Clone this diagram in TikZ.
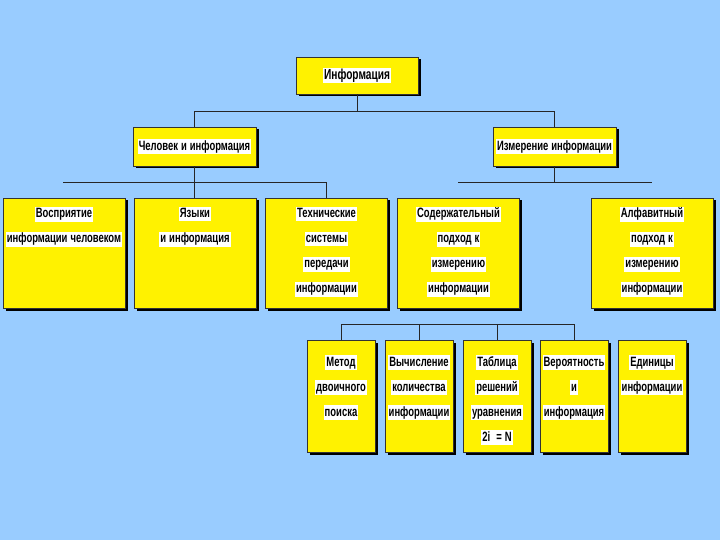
\documentclass[tikz,border=0pt]{standalone}
\usepackage{fontspec}
\setmainfont{Liberation Sans}[FakeStretch=0.7, WordSpace=0.7]
\usetikzlibrary{shadows}
\definecolor{skyblue}{HTML}{99CCFF}
\setlength{\fboxsep}{1pt}
\newcommand{\hl}[1]{\colorbox{white}{\spaceskip=3pt\relax\rule[-2.5pt]{0pt}{12.5pt}#1}}

\tikzset{
  card/.style={draw=black!80, line width=0.5pt, fill=yellow, inner sep=1pt, align=center,
    drop shadow={fill=black, opacity=1, shadow xshift=2.5pt, shadow yshift=-2.5pt},
    font=\fontsize{13.5}{25}\selectfont\bfseries},
  head/.style={card, minimum width=123pt, minimum height=39pt},
  wide/.style={card, text width=120pt, text height=19pt, text depth=89pt},
  narrow/.style={card, text width=66pt, text height=25pt, text depth=85pt},
  link/.style={draw=black!85, line width=0.8pt}
}

\begin{document}
\begin{tikzpicture}[x=1pt,y=-1pt]
\fill[skyblue] (0,0) rectangle (720,540);
% top levels
\node[card, minimum width=122pt, minimum height=37pt, font=\fontsize{14.5}{16}\selectfont\bfseries] (info) at (357,75.5) {\hl{Информация}};
\node[head] (chel) at (194.5,146.5) {\hl{Человек и информация}};
\node[head] (izm) at (554.5,146.5) {\hl{Измерение информации}};
% third level
\node[wide] (vospr) at (64,253) {\hl{Восприятие}\\\hl{информации человеком}};
\node[wide] (yaz) at (195,253) {\hl{Языки}\\\hl{и информация}};
\node[wide] (tech) at (326.5,253) {\hl{Технические}\\\hl{системы}\\\hl{передачи}\\\hl{информации}};
\node[wide] (sod) at (458.5,253) {\hl{Содержательный}\\\hl{подход к}\\\hl{измерению}\\\hl{информации}};
\node[wide] (alf) at (652,253) {\hl{Алфавитный}\\\hl{подход к}\\\hl{измерению}\\\hl{информации}};
% fourth level
\node[narrow] (metod) at (341,396) {\hl{Метод}\\\hl{двоичного}\\\hl{поиска}};
\node[narrow] (vych) at (419,396) {\hl{Вычисление}\\\hl{количества}\\\hl{информации}};
\node[narrow] (tabl) at (497,396) {\hl{Таблица}\\\hl{решений}\\\hl{уравнения}\\\hl{2i \ = N}};
\node[narrow] (ver) at (574,396) {\hl{Вероятность}\\\hl{и}\\\hl{информация}};
\node[narrow] (ed) at (652,396) {\hl{Единицы}\\\hl{информации}};
% connectors
\coordinate (top) at (357,111);
\draw[link] (info.south) -- (top) -| (chel.north);
\draw[link] (top) -| (izm.north);
\coordinate (lft) at (63,182);
\draw[link] (chel.south) -- (chel.south |- yaz.north);
\draw[link] (lft) -| (tech.north);
\coordinate (r1) at (458,182);
\coordinate (r2) at (652,182);
\draw[link] (r1) -- (r2);
\draw[link] (izm.south) -- (izm.south |- r1);
\draw[link] (metod.north) -- ++(0,-15) -| (ver.north);
\foreach \n in {vych,tabl}
  \draw[link] (\n.north) -- ++(0,-15);
\end{tikzpicture}
\end{document}
